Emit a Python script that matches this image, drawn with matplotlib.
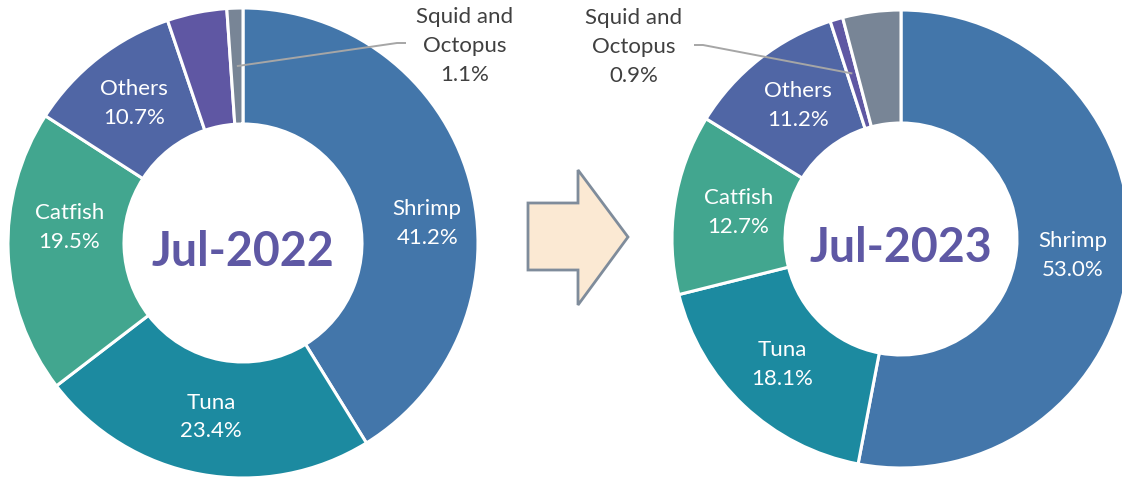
import numpy as np
import matplotlib
matplotlib.use("Agg")
import matplotlib.pyplot as plt
from matplotlib.patches import Polygon

W, H = 1122, 478

# export share by product (%), clockwise from 12 o'clock
products_2022 = ["Shrimp", "Tuna", "Catfish", "Others", "", "Squid and\nOctopus"]
share_2022 = [41.2, 23.4, 19.5, 10.7, 4.1, 1.1]
products_2023 = ["Shrimp", "Tuna", "Catfish", "Others", "Squid and\nOctopus", ""]
share_2023 = [53.0, 18.1, 12.7, 11.2, 0.9, 4.1]
periods = ["Jul-2022", "Jul-2023"]

SLICE_COLORS = ["#4376AA", "#1C8AA0", "#42A68F", "#5066A5", "#5F57A3", "#788596"]
TITLE_COLOR = "#5E58A4"
FONT = ["Lato", "DejaVu Sans"]


def py(y):
    # pixel row (from top) -> data y (from bottom)
    return H - y


def donut(ax, labels, values, cx, cy, radius, hole, title, nudges, callout):
    ring = radius - hole
    wedges, _ = ax.pie(values, colors=SLICE_COLORS, startangle=90, counterclock=False,
                       center=(cx, py(cy)), radius=radius, frame=True,
                       wedgeprops=dict(width=ring, edgecolor="white", linewidth=2.2))
    mid_r = hole + ring / 2
    for w, lab, val in zip(wedges, labels, values):
        if not lab:
            continue
        ang = np.deg2rad((w.theta1 + w.theta2) / 2)
        x = cx + mid_r * np.cos(ang)
        y = py(cy) + mid_r * np.sin(ang)
        txt = f"{lab}\n{val:.1f}%"
        if lab.startswith("Squid"):
            # leader: slice -> elbow -> short horizontal stub at the label
            tx, ty, ex, ey, side = callout
            ax.plot([x, ex, ex + side * 9], [y, py(ey), py(ey)], color="#A6A6A6", lw=1.4,
                    solid_capstyle="butt", zorder=5)
            ax.text(tx, py(ty), txt, ha="center", va="center",
                    fontsize=16, color="#404040", family=FONT, linespacing=1.55)
        else:
            dx, dy = nudges.get(lab, (0, 0))
            ax.text(x + dx, y - dy, txt, ha="center", va="center", fontsize=16,
                    color="white", family=FONT, linespacing=1.55, zorder=6)
    ax.text(cx, py(cy + 9), title, ha="center", va="center", fontsize=33.5,
            fontweight="bold", color=TITLE_COLOR, family=FONT)


fig = plt.figure(figsize=(W / 100, H / 100), dpi=100)
ax = fig.add_axes([0, 0, 1, 1])

donut(ax, products_2022, share_2022, 243, 243, 235, 119, periods[0],
      {"Shrimp": (14, 29), "Catfish": (3, -23)},
      (465, 46, 397, 43, 1))
donut(ax, products_2023, share_2023, 901, 239, 229, 116, periods[1],
      {"Catfish": (8, 0), "Others": (4, 2)},
      (634, 47, 703, 45, -1))

arrow = Polygon([(528, py(203)), (578, py(203)), (578, py(170)), (628, py(237)),
                 (578, py(305)), (578, py(270)), (528, py(270))],
                closed=True, facecolor="#FBE9D3", edgecolor="#7F8C9B", lw=2, zorder=4)
ax.add_patch(arrow)

ax.set_xlim(0, W)
ax.set_ylim(0, H)
ax.set_aspect("equal")
ax.axis("off")

fig.savefig("out.png", dpi=100, facecolor="white")
